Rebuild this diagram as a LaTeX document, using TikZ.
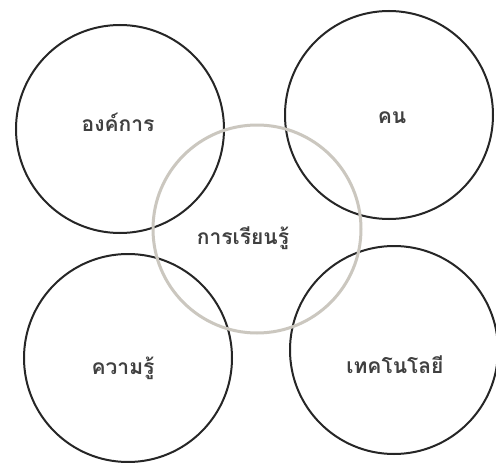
\documentclass[tikz,border=0pt]{standalone}
\usepackage{fontspec}
\newfontfamily\thaifont[Script=Thai]{Loma}
\definecolor{ringgray}{HTML}{CBC7BF}
\definecolor{txtgray}{HTML}{404040}
\begin{document}
\begin{tikzpicture}[x=1pt,y=-1pt,
  ring/.style={circle,draw=black!85,line width=2pt,minimum size=208pt,inner sep=0pt},
  centerring/.style={circle,draw=ringgray,line width=3pt,minimum size=208pt,inner sep=0pt},
  lbl/.style={font=\thaifont\bfseries\fontsize{21}{24}\selectfont,text=txtgray,inner sep=0pt}]
\useasboundingbox (0,0) rectangle (496,463);
\fill[white] (0,0) rectangle (496,463);
\node[ring] (org) at (120,129) {};
\node[ring] (ppl) at (389,115) {};
\node[ring] (know) at (128,358) {};
\node[ring] (tech) at (394,350) {};
\node[centerring] (learn) at (257,229) {};
\node[lbl] (torg) at (118,122) {องค์การ};
\node[lbl] (tppl) at (392,118) {คน};
\node[lbl] (tlearn) at (243,238) {การเรียนรู้};
\node[lbl] (tknow) at (123,368) {ความรู้};
\node[lbl] (ttech) at (395,365) {เทคโนโลยี};
\end{tikzpicture}
\end{document}
